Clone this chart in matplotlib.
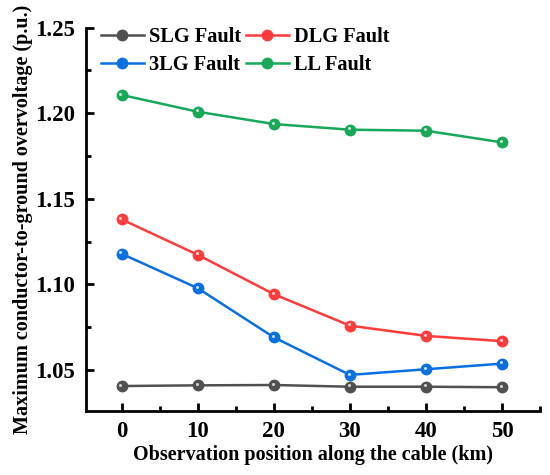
import numpy as np
import matplotlib.pyplot as plt
import matplotlib.transforms as mtransforms
from matplotlib.ticker import MultipleLocator

positions = [0, 10, 20, 30, 40, 50]
slg = [1.0406, 1.0410, 1.0412, 1.0402, 1.0402, 1.0399]
dlg = [1.1380, 1.1173, 1.0943, 1.0759, 1.0699, 1.0668]
tlg = [1.1179, 1.0978, 1.0691, 1.0471, 1.0504, 1.0537]
ll = [1.2107, 1.2009, 1.1937, 1.1904, 1.1898, 1.1830]

series = [("SLG Fault", slg, "#505050"),
          ("DLG Fault", dlg, "#ff3b3b"),
          ("3LG Fault", tlg, "#0a6fe0"),
          ("LL Fault", ll, "#17a85a")]

plt.rcParams["font.family"] = "Liberation Serif"
plt.rcParams["font.weight"] = "bold"

fig = plt.figure(figsize=(5.5, 4.75), dpi=100)
ax = fig.add_axes([0.156, 0.1347, 0.826, 0.807])

shift = mtransforms.ScaledTranslation(-0.8 / 72, 1.0 / 72, fig.dpi_scale_trans)
handles = []
for name, vals, col in series:
    h, = ax.plot(positions, vals, color=col, lw=1.8, marker="o", ms=7.5,
                 mfc=col, mec=col, label=name)
    handles.append(h)
    ax.plot(positions, vals, ls="none", marker="o", ms=2.2, mfc="white",
            mec="none", alpha=0.75, transform=ax.transData + shift)

ax.set_xlim(-4.7, 55)
ax.set_ylim(1.026, 1.25)
ax.xaxis.set_major_locator(MultipleLocator(10))
ax.xaxis.set_minor_locator(MultipleLocator(5))
ax.yaxis.set_minor_locator(MultipleLocator(0.025))
ax.set_yticks([1.05, 1.10, 1.15, 1.20, 1.25])

for s in ["top", "right"]:
    ax.spines[s].set_visible(False)
for s in ["left", "bottom"]:
    ax.spines[s].set_linewidth(2)

ax.tick_params(which="major", direction="in", length=6, width=2, labelsize=16.5,
               pad=7.5)
ax.tick_params(which="minor", direction="in", length=3.5, width=2)
for lab in ax.get_xticklabels() + ax.get_yticklabels():
    lab.set_fontweight("bold")

ax.set_xlabel("Observation position along the cable (km)", fontsize=14.5,
              fontweight="bold", labelpad=2)
ax.set_ylabel("Maximum conductor-to-ground overvoltage (p.u.)", fontsize=14.5,
              fontweight="bold", labelpad=2)

order = [0, 2, 1, 3]
ax.legend([handles[i] for i in order], [series[i][0] for i in order], ncol=2,
          loc="upper left", bbox_to_anchor=(0.015, 1.023), frameon=False,
          prop={"size": 14.7, "weight": "bold"}, handlelength=2.1,
          columnspacing=0.25, handletextpad=0.25, labelspacing=0.4,
          borderaxespad=0.0)

fig.savefig("out.png", dpi=100)
